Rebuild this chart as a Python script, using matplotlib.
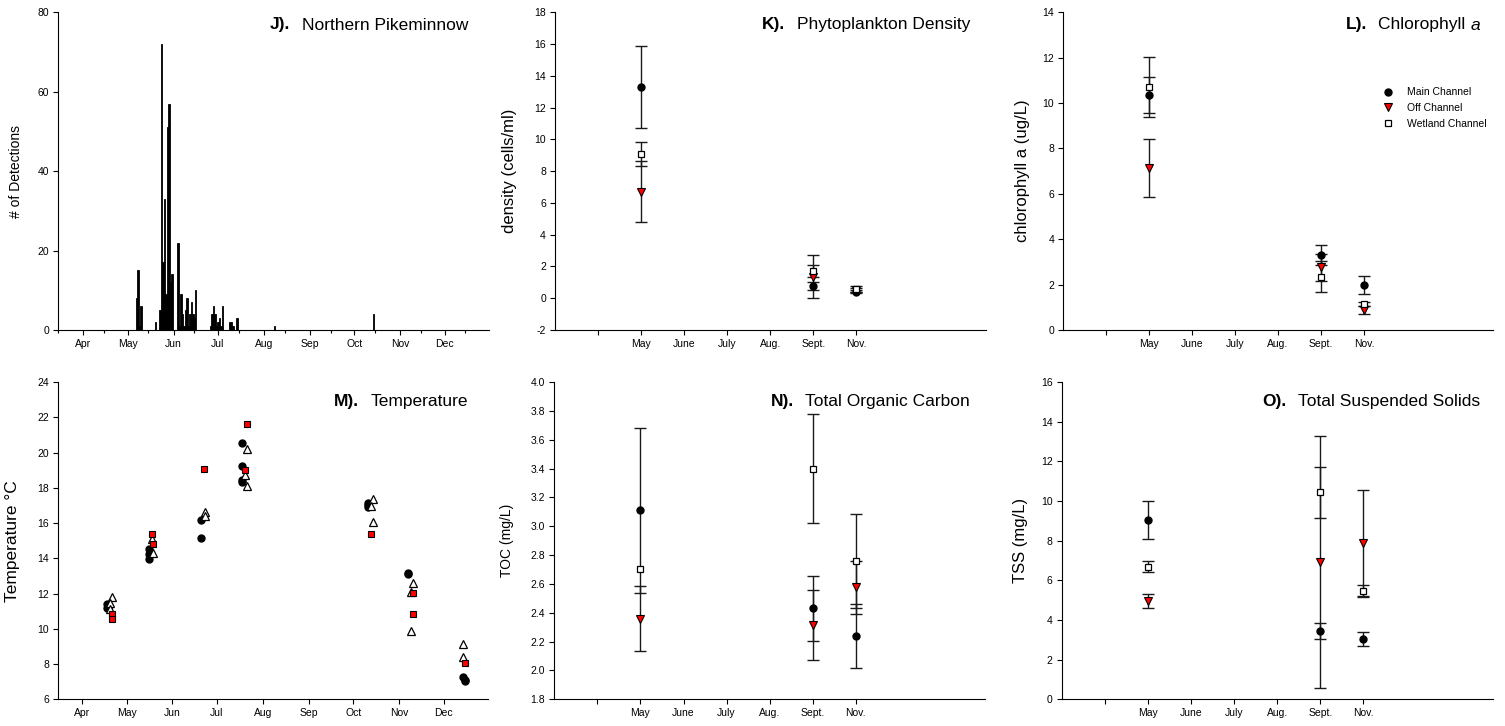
import matplotlib
matplotlib.use('Agg')
import matplotlib.pyplot as plt
import matplotlib.dates as mdates
import numpy as np
import pandas as pd

plt.rcParams['font.family'] = ['Liberation Sans', 'DejaVu Sans']
plt.rcParams['axes.unicode_minus'] = False

# ---------------- data ----------------
YEAR = 2013
# J) Northern Pikeminnow daily detections
det_dates = ['05-07', '05-08', '05-09', '05-10', '05-20', '05-23', '05-24', '05-25',
             '05-26', '05-27', '05-28', '05-29', '05-30', '05-31', '06-04', '06-05',
             '06-06', '06-07', '06-08', '06-09', '06-10', '06-11', '06-12', '06-13',
             '06-14', '06-15', '06-16', '06-26', '06-27', '06-28', '06-29', '06-30',
             '07-01', '07-02', '07-03', '07-04', '07-09', '07-10', '07-11', '07-14',
             '08-08', '10-14']
det_counts = [8, 15, 1, 6, 2, 5, 72, 17,
              33, 9, 51, 57, 12, 14, 22, 1,
              9, 4, 1, 5, 8, 1, 4, 7,
              4, 3, 10, 1, 4, 6, 4, 1,
              2, 3, 1, 6, 2, 2, 1, 3,
              1, 4]

# M) Temperature
temp_main_dates = ['04-18', '04-18', '04-19', '05-16', '05-16', '05-16', '06-20', '06-20',
                   '07-18', '07-18', '07-18', '07-18', '10-11', '10-11', '10-11',
                   '11-07', '11-07', '12-14', '12-15', '12-15']
temp_main = [11.4, 11.2, 11.3, 14.5, 14.23, 13.96, 16.15, 15.13,
             20.56, 19.24, 18.44, 18.3, 17.15, 16.9, 17.0,
             13.15, 13.1, 7.25, 7.04, 7.1]
temp_off_dates = ['04-21', '04-21', '05-18', '05-19', '06-22', '07-21', '07-20',
                  '10-13', '11-10', '11-10', '12-15']
temp_off = [10.84, 10.58, 15.36, 14.79, 19.08, 21.6, 19.0,
            15.4, 12.05, 10.84, 8.06]
temp_wet_dates = ['04-21', '04-20', '04-20', '05-18', '05-19', '06-23', '06-23',
                  '07-21', '07-20', '07-21', '10-14', '10-13', '10-14',
                  '11-10', '11-09', '11-09', '12-14', '12-14']
temp_wet = [11.79, 11.45, 11.1, 15.1, 14.28, 16.6, 16.37,
            20.2, 18.73, 18.1, 17.36, 16.97, 16.04,
            12.6, 12.07, 9.88, 9.14, 8.39]

# Categorical month axis for K, L, N, O
cat_labels = ['', 'May', 'June', 'July', 'Aug.', 'Sept.', 'Nov.']
sample_months = ['May', 'Sept.', 'Nov.']

density_main = [13.3, 0.75, 0.42];  density_main_err = [2.6, 0.25, 0.10]
density_off = [6.71, 1.35, 0.50];   density_off_err = [1.93, 1.35, 0.12]
density_wet = [9.06, 1.71, 0.60];   density_wet_err = [0.76, 0.36, 0.20]

chl_main = [10.36, 3.30, 1.98];  chl_main_err = [0.78, 0.45, 0.40]
chl_off = [7.12, 2.76, 0.88];    chl_off_err = [1.28, 0.60, 0.18]
chl_wet = [10.71, 2.35, 1.15];   chl_wet_err = [1.34, 0.68, 0.10]

toc_main = [3.11, 2.43, 2.24];   toc_main_err = [0.57, 0.225, 0.224]
toc_off = [2.36, 2.315, 2.576];  toc_off_err = [0.225, 0.24, 0.185]
toc_wet = [2.70, 3.40, 2.76];    toc_wet_err = [np.nan, 0.38, 0.325]

tss_main = [9.03, 3.43, 3.06];   tss_main_err = [0.95, 0.40, 0.35]
tss_off = [4.97, 6.92, 7.87];    tss_off_err = [0.35, 6.37, 2.70]
tss_wet = [6.69, 10.44, 5.48];   tss_wet_err = [0.29, 1.29, 0.27]

month_tick_labels = ['Apr', 'May', 'Jun', 'Jul', 'Aug', 'Sep', 'Oct', 'Nov', 'Dec']

# ---------------- figure ----------------
W, H = 1505, 726
fig = plt.figure(figsize=(W / 100, H / 100), dpi=100)


def add_axes(l, r, t, b):
    return fig.add_axes([l / W, 1 - b / H, (r - l) / W, (b - t) / H])


def to_num(md):
    return mdates.date2num(pd.to_datetime([f'{YEAR}-{d}' for d in md]))


def style(ax):
    for s in ['top', 'right']:
        ax.spines[s].set_visible(False)
    for s in ['left', 'bottom']:
        ax.spines[s].set_linewidth(0.8)
    ax.tick_params(direction='out', length=3.5, width=0.8, labelsize=7.5, pad=3)


def title(ax, xpx, ypx, tag, parts):
    fx, fy = xpx / W, 1 - ypx / H
    last = None
    for txt, st in reversed(parts):
        if last is None:
            last = fig.text(fx, fy, txt, ha='right', va='center', fontsize=12.5, style=st)
        else:
            last = ax.annotate(txt, xy=(0, 0), xycoords=last, xytext=(0, 0),
                               textcoords='offset points', ha='right', va='bottom',
                               fontsize=12.5, style=st)
    ax.annotate(tag, xy=(0, 0), xycoords=last, xytext=(-8, 0),
                textcoords='offset points', ha='right', va='bottom',
                fontsize=12.5, fontweight='bold')


def date_axis(ax, minor=False):
    start = mdates.date2num(pd.Timestamp(f'{YEAR}-03-16'))
    end = mdates.date2num(pd.Timestamp(f'{YEAR}-12-31'))
    ax.set_xlim(start, end)
    ticks = mdates.date2num(pd.to_datetime([f'{YEAR}-{m:02d}-01' for m in range(4, 13)]))
    ax.set_xticks(ticks)
    ax.set_xticklabels(month_tick_labels)
    if minor:
        mticks = mdates.date2num(pd.to_datetime([f'{YEAR}-{m:02d}-15' for m in range(3, 13)]))
        ax.set_xticks(mticks, minor=True)
        ax.tick_params(axis='x', which='minor', length=2.5, width=0.8, direction='out')


# J) Northern Pikeminnow
axJ = add_axes(58, 489, 12.3, 330)
style(axJ)
axJ.bar(to_num(det_dates), det_counts, width=1.0, color='black', edgecolor='black',
        linewidth=0.6, align='center')
date_axis(axJ, minor=True)
axJ.set_ylim(0, 80)
axJ.set_yticks(np.arange(0, 81, 20))
axJ.set_ylabel('# of Detections', fontsize=10)
axJ.yaxis.set_label_coords(-0.082, 0.5)
title(axJ, 468, 25, 'J).', [('Northern Pikeminnow', 'normal')])

# M) Temperature
axM = add_axes(58.3, 488.3, 382, 699.3)
style(axM)
axM.plot(to_num(temp_main_dates), temp_main, 'o', ms=5, color='black', mec='black', zorder=3)
axM.plot(to_num(temp_wet_dates), temp_wet, '^', ms=5.5, mfc='white', mec='black', mew=0.9, zorder=3)
axM.plot(to_num(temp_off_dates), temp_off, 's', ms=5, mfc='#ff0000', mec='black', mew=0.8, zorder=4)
date_axis(axM)
axM.set_ylim(6, 24)
axM.set_yticks(np.arange(6, 25, 2))
axM.set_ylabel('Temperature °C', fontsize=12.5)
axM.yaxis.set_label_coords(-0.089, 0.5)
title(axM, 467.7, 401.7, 'M).', [('Temperature', 'normal')])


def cat_panel(ax, main, main_e, off, off_e, wet, wet_e, ylim, yticks, ylabel, lblsize, fmt=None, legend=False):
    style(ax)
    xs = [cat_labels.index(m) + 1 for m in sample_months]
    ekw = dict(fmt='none', ecolor='#1a1a1a', elinewidth=1.0, capsize=4, capthick=1.0, zorder=2)
    for vals, errs in ((main, main_e), (off, off_e), (wet, wet_e)):
        keep = [i for i, e in enumerate(errs) if not np.isnan(e)]
        ax.errorbar([xs[i] for i in keep], [vals[i] for i in keep],
                    yerr=[errs[i] for i in keep], **ekw)
    ax.plot(xs, main, 'o', ms=5, color='black', label='Main Channel', zorder=3, ls='none')
    ax.plot(xs, off, 'v', ms=5.5, mfc='#ff0000', mec='black', mew=0.8, label='Off Channel', zorder=4, ls='none')
    ax.plot(xs, wet, 's', ms=5, mfc='white', mec='black', mew=0.9, label='Wetland Channel', zorder=5, ls='none')
    ax.set_xlim(0, 10)
    ax.set_xticks(range(1, len(cat_labels) + 1))
    ax.set_xticklabels(cat_labels)
    ax.set_ylim(*ylim)
    ax.set_yticks(yticks)
    if fmt:
        ax.set_yticklabels([fmt % v for v in yticks])
    ax.set_ylabel(ylabel, fontsize=lblsize)
    if legend:
        ax.legend(loc='upper left', bbox_to_anchor=(0.73, 0.78), frameon=False, fontsize=7.5,
                  handletextpad=1.2, labelspacing=0.55, borderpad=0, handlelength=1.2)


axK = add_axes(555, 985.7, 12.3, 330)
cat_panel(axK, density_main, density_main_err, density_off, density_off_err,
          density_wet, density_wet_err, (-2, 18), np.arange(-2, 19, 2), 'density (cells/ml)', 12)
axK.yaxis.set_label_coords(-0.089, 0.5)
title(axK, 970, 25, 'K).', [('Phytoplankton Density', 'normal')])

axL = add_axes(1063.3, 1492.7, 12.3, 330)
cat_panel(axL, chl_main, chl_main_err, chl_off, chl_off_err,
          chl_wet, chl_wet_err, (0, 14), np.arange(0, 15, 2), 'chlorophyll a (ug/L)', 12, legend=True)
axL.yaxis.set_label_coords(-0.078, 0.5)
title(axL, 1480, 25, 'L).', [('Chlorophyll ', 'normal'), ('a', 'italic')])

axN = add_axes(554.3, 985, 382, 699.3)
cat_panel(axN, toc_main, toc_main_err, toc_off, toc_off_err,
          toc_wet, toc_wet_err, (1.8, 4.0), np.round(np.arange(1.8, 4.01, 0.2), 1), 'TOC (mg/L)', 10, fmt='%.1f')
axN.yaxis.set_label_coords(-0.094, 0.5)
title(axN, 970, 401.7, 'N).', [('Total Organic Carbon', 'normal')])

axO = add_axes(1061.7, 1492.7, 382, 699.3)
cat_panel(axO, tss_main, tss_main_err, tss_off, tss_off_err,
          tss_wet, tss_wet_err, (0, 16), np.arange(0, 17, 2), 'TSS (mg/L)', 12)
axO.yaxis.set_label_coords(-0.078, 0.5)
title(axO, 1480, 401.7, 'O).', [('Total Suspended Solids', 'normal')])

fig.savefig('out.png', dpi=100)
